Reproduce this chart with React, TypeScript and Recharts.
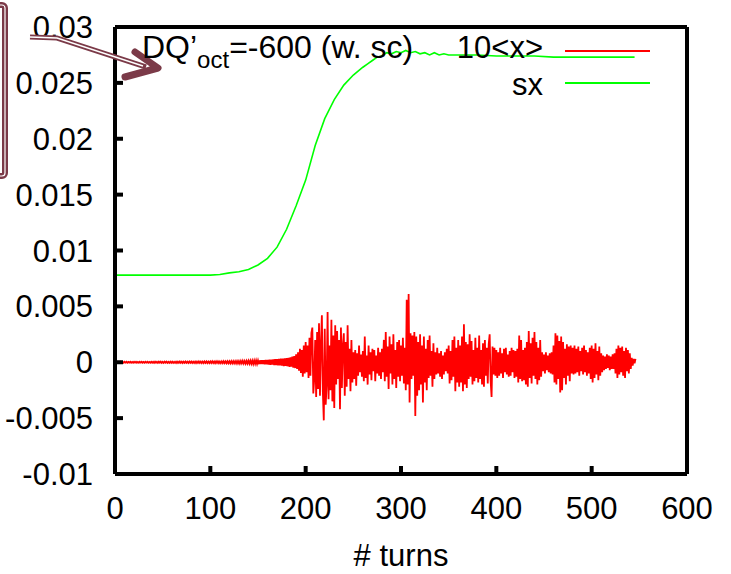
import { LineChart, Line, XAxis, YAxis } from 'recharts';

const FONT = "'Liberation Sans', Arial, sans-serif";
const MAROON = '#7b3a48';

// ─── Axes ─────────────────────────────────────────────────
const xTicks = [0, 100, 200, 300, 400, 500, 600];
const yTicks = [-0.01, -0.005, 0, 0.005, 0.01, 0.015, 0.02, 0.025, 0.03];

// ─── sx (green) ───────────────────────────────────────────
const sxTurns = [
  0, 20, 40, 60, 80, 100, 110, 120, 130, 140, 150, 160, 170, 180, 190, 200, 210, 220, 230, 240,
  250, 260, 265, 270, 275, 280, 285, 290, 295, 300, 305, 310, 315, 320, 325, 330, 335, 340, 345, 350,
  360, 380, 400, 420, 440, 460, 480, 500, 520, 545,
];
const sxValues = [
  0.0078, 0.0078, 0.0078, 0.0078, 0.0078, 0.0078, 0.00785, 0.008, 0.0081, 0.0083, 0.0087, 0.0093,
  0.0103, 0.0119, 0.014, 0.0163, 0.0194, 0.0218, 0.0235, 0.0248, 0.0257, 0.0264, 0.0267, 0.027,
  0.0273, 0.0274, 0.0277, 0.0276, 0.0278, 0.0277, 0.0279, 0.0277, 0.0278, 0.0276, 0.0277, 0.0275,
  0.0277, 0.0275, 0.0276, 0.0275, 0.0275, 0.0275, 0.0274, 0.0274, 0.0274, 0.0273, 0.0273, 0.0273,
  0.0273, 0.0273,
];

// ─── 10<x> (red), one value per turn, in units of 1e-5 ────
const meanX = [
  3, -3, 4, -4, 3, -4, 4, -3, 3, -4, 4, -3, 4, -4, 3, -3, 4, -4, 3, -4,
  4, -3, 4, -4, 3, -4, 4, -3, 4, -4, 3, -4, 4, -3, 4, -4, 3, -4, 4, -4,
  4, -5, 5, -4, 4, -5, 5, -4, 5, -5, 4, -5, 5, -4, 5, -5, 4, -5, 5, -5,
  5, -5, 4, -5, 5, -6, 5, -5, 6, -5, 5, -6, 5, -5, 6, -5, 5, -6, 6, -5,
  6, -6, 5, -6, 6, -7, 6, -6, 7, -6, 6, -7, 6, -7, 7, -6, 7, -7, 6, -7,
  7, -7, 8, -7, 7, -8, 8, -7, 8, -8, 7, -8, 8, -8, 9, -8, 8, -9, 9, -8,
  9, -9, 10, -9, 10, -10, 9, -10, 11, -10, 10, -11, 11, -10, 12, -11, 11, -12, 12, -12,
  13, -12, 14, -13, 14, -15, 15, -14, 16, -15, 16, -17, 17, -16, 18, -17, 19, -18, 20, -19,
  21, -20, 22, -23, 24, -22, 25, -26, 27, -25, 28, -29, 30, -28, 32, -30, 33, -34, 35, -33,
  38, -36, 40, -42, 45, -40, 50, -48, 55, -52, 70, -60, 90, -75, 120, -95, 110, -130, 150, -100,
  180, -90, 150, -140, 220, -120, 260, 310, -280, -150, 200, -310, 270, -240, 350, -300, 160, 420, -260, -520,
  300, -380, -200, 450, -330, 150, -250, 380, -350, 240, -410, 330, -200, 280, -150, 200, -420, 310, -230, 150,
  260, -300, 180, -220, 330, -150, 120, -260, 200, -180, 90, -150, 110, -210, 80, -120, 150, -90, 70, -130,
  100, -170, 230, -140, 60, -200, 150, -110, 90, -160, 120, -80, 110, -170, 60, -100, 130, -120, 90, -150,
  120, -90, 200, -170, 270, -130, 140, -240, 230, -100, 160, -200, 250, -150, 110, -230, 180, -130, 200, -170,
  150, -120, 220, -190, 130, -250, 560, -200, 610, -360, 260, -150, 240, -120, 270, -480, 230, -300, 180, -250,
  250, -200, 150, -360, 230, -180, 120, -250, 200, -140, 240, -120, 100, -220, 170, -150, 90, -110, 130, -100,
  80, -130, 100, -150, 60, -110, 90, -80, 120, -100, 150, -190, 100, -160, 200, -130, 230, -260, 130, -180,
  200, -220, 150, -180, 230, -260, 340, -200, 180, -230, 160, -150, 250, -130, 190, -200, 110, -170, 220, -140,
  130, -180, 240, -150, 110, -200, 170, -220, 200, -120, 130, -190, 160, 250, -160, -310, 140, -110, 130, -120,
  110, -140, 90, -120, 130, -100, 80, -140, 120, -90, 130, -110, 70, -130, 100, -120, 130, -90, 110, -140,
  100, -130, 120, -180, 240, -150, 200, -170, 110, -160, 130, -200, 180, -220, 280, -140, 170, -190, 220, -120,
  270, -150, 180, -200, 130, -160, 200, -130, 90, -80, 70, -100, 90, -70, 60, -90, 80, -100, 90, -110,
  150, -180, 260, -200, 240, -150, 190, -270, 230, -250, 180, -140, 120, -200, 160, -120, 140, -170, 150, -100,
  130, -110, 150, -100, 120, -90, 140, -120, 100, -80, 130, -110, 150, -90, 110, -120, 90, -100, 130, -150,
  150, -180, 120, -140, 170, -110, 100, -160, 140, -120, 80, -90, 60, -70, 50, -60, 70, -50, 60, -70,
  50, -60, 70, -60, 80, -100, 120, -140, 150, -110, 130, -90, 140, -120, 100, -140, 130, -80, 110, -100,
  80, -60, 40, -30, 30, -10, 30,
];

const sxData = sxTurns.map((t, i) => ({ t, v: sxValues[i] }));
const meanData = meanX.map((v, t) => ({ t, v: v * 1e-5 }));

const tickStyle = { fill: '#000', fontSize: 31, fontFamily: FONT };
const frameLine = { stroke: '#000', strokeWidth: 4 };
const tickMark = { stroke: '#000', strokeWidth: 4 };

export default function App() {
  return (
    <div
      style={{
        position: 'absolute',
        left: 0,
        top: 0,
        width: 731,
        height: 574,
        background: '#fff',
      }}
    >
      <LineChart
        width={731}
        height={574}
        margin={{ top: 26, right: 43, left: 0, bottom: 0 }}
      >
        <XAxis
          type="number"
          dataKey="t"
          domain={[0, 600]}
          ticks={xTicks}
          interval={0}
          height={100}
          tick={tickStyle}
          tickSize={-8}
          tickMargin={31}
          axisLine={frameLine}
          tickLine={tickMark}
          label={{
            value: '# turns',
            position: 'insideBottom',
            offset: 8,
            fill: '#000',
            fontSize: 31,
            fontFamily: FONT,
          }}
        />
        <XAxis
          xAxisId="top"
          orientation="top"
          type="number"
          dataKey="t"
          domain={[0, 600]}
          ticks={xTicks}
          interval={0}
          height={1}
          tick={false}
          tickSize={-8}
          axisLine={frameLine}
          tickLine={tickMark}
        />
        <YAxis
          type="number"
          domain={[-0.01, 0.03]}
          ticks={yTicks}
          interval={0}
          width={115}
          tick={tickStyle}
          tickSize={-8}
          tickMargin={30}
          axisLine={frameLine}
          tickLine={tickMark}
        />
        <YAxis
          yAxisId="right"
          orientation="right"
          type="number"
          domain={[-0.01, 0.03]}
          ticks={yTicks}
          interval={0}
          width={1}
          tick={false}
          tickSize={-8}
          axisLine={frameLine}
          tickLine={tickMark}
        />
        <Line
          data={meanData}
          dataKey="v"
          stroke="#ff0000"
          strokeWidth={1.8}
          dot={false}
          isAnimationActive={false}
        />
        <Line
          data={sxData}
          dataKey="v"
          xAxisId="top"
          yAxisId="right"
          stroke="#00ff00"
          strokeWidth={1.6}
          dot={false}
          isAnimationActive={false}
        />
      </LineChart>

      {/* annotation, title and key */}
      <svg
        width={731}
        height={574}
        style={{ position: 'absolute', left: 0, top: 0, pointerEvents: 'none' }}
      >
        <rect x={-20} y={5} width={25} height={171} rx={3} fill="none" stroke={MAROON} strokeWidth={6} />
        <rect x={-20} y={5} width={25} height={171} rx={3} fill="none" stroke="#fff" strokeWidth={1.2} />
        <path d="M30,37 L57,38 L146,67" fill="none" stroke={MAROON} strokeWidth={5} />
        <path d="M30,37 L57,38 L143,66" fill="none" stroke="#fff" strokeWidth={1.4} />
        <path
          d="M135,52 L158,68 L125,77"
          fill="none"
          stroke={MAROON}
          strokeWidth={7}
          strokeLinecap="round"
          strokeLinejoin="round"
        />

        <text x={142} y={58} fontSize={32} fontFamily={FONT} fill="#000">
          DQ’
          <tspan fontSize={24} dy={10}>oct</tspan>
          <tspan dy={-10}>=-600 (w. sc)</tspan>
        </text>

        <text x={543} y={58} fontSize={31} fontFamily={FONT} fill="#000" textAnchor="end">
          {'10<x>'}
        </text>
        <line x1={565} y1={51} x2={650} y2={51} stroke="#ff0000" strokeWidth={2} />
        <text x={543} y={95} fontSize={31} fontFamily={FONT} fill="#000" textAnchor="end">
          sx
        </text>
        <line x1={565} y1={83} x2={650} y2={83} stroke="#00ff00" strokeWidth={2} />
      </svg>
    </div>
  );
}
